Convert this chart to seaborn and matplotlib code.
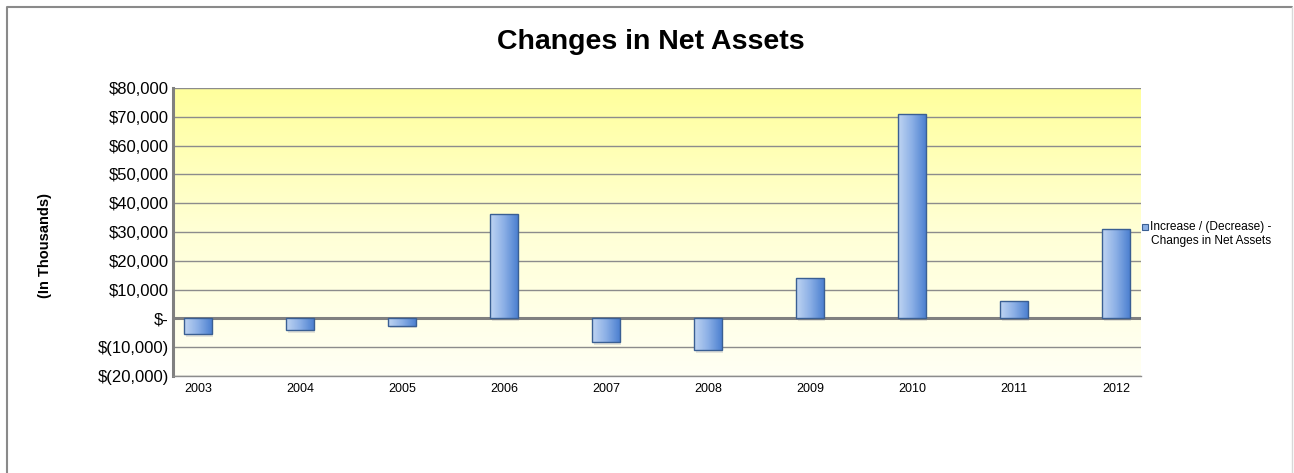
"""Changes in Net Assets bar chart."""
import matplotlib

matplotlib.use("Agg")
import matplotlib.pyplot as plt
import numpy as np
import pandas as pd
import seaborn as sns
from matplotlib.colors import LinearSegmentedColormap
from matplotlib.lines import Line2D
from matplotlib.patches import Rectangle
from matplotlib.ticker import FuncFormatter

YEARS = ["2003", "2004", "2005", "2006", "2007", "2008", "2009", "2010", "2011", "2012"]
CHANGES = [-5500, -4200, -2500, 36300, -8300, -11000, 14200, 70900, 5900, 31100]
LEGEND_LABEL = "Increase / (Decrease) -\nChanges in Net Assets"

df = pd.DataFrame({"year": YEARS, "change": CHANGES})

sns.set_theme(style="white")
plt.rcParams["font.family"] = ["Liberation Sans", "DejaVu Sans"]
plt.rcParams["text.color"] = "black"

W, H = 1294, 473
fig = plt.figure(figsize=(W / 100, H / 100), dpi=100)
ax = fig.add_axes([173 / W, 1 - 376 / H, (1141 - 173) / W, (376 - 88) / H])

sns.barplot(data=df, x="year", y="change", ax=ax, width=0.27,
            color="#6d9ad8", edgecolor="#3a5f93", linewidth=1.0, zorder=3)

ylim = (-20000, 80000)
xlim = (-0.245, len(YEARS) - 1 + 0.245)

# background gradient: yellow at top fading to pale cream
bg = LinearSegmentedColormap.from_list("bg", ["#fffff4", "#ffffd6", "#ffff9c"])
grad = np.linspace(0, 1, 256).reshape(-1, 1)
ax.imshow(grad, cmap=bg, origin="lower", aspect="auto",
          extent=[*xlim, *ylim], zorder=0)

# bar gradient (light left -> darker right) plus soft shadow
bar_cmap = LinearSegmentedColormap.from_list("bar", ["#c0d5f2", "#8cb0e6", "#4c80d0"])
hgrad = np.linspace(0, 1, 256).reshape(1, -1)
for patch in list(ax.patches):
    x0, y0 = patch.get_x(), patch.get_y()
    w, h = patch.get_width(), patch.get_height()
    lo, hi = min(y0, y0 + h), max(y0, y0 + h)
    ax.add_patch(Rectangle((x0 + 0.015, lo - 900), w, hi - lo,
                           facecolor="#c4c4c4", edgecolor="none", alpha=0.45, zorder=2))
    im = ax.imshow(hgrad, cmap=bar_cmap, aspect="auto",
                   extent=[x0, x0 + w, lo, hi], zorder=3.5)
    im.set_clip_path(patch)
    patch.set_facecolor("none")
    patch.set_zorder(4)

ax.set_ylim(*ylim)
ax.set_xlim(*xlim)

ax.set_yticks(range(-20000, 80001, 10000))
ax.yaxis.set_major_formatter(FuncFormatter(
    lambda v, _: "$-" if v == 0 else (f"${v:,.0f}" if v > 0 else f"$({-v:,.0f})")))
ax.tick_params(axis="y", labelsize=12, length=0, pad=3, labelcolor="black")
ax.tick_params(axis="x", labelsize=9, length=0, pad=5, labelcolor="black")
ax.grid(axis="y", color="#8c8c8c", linewidth=1.0, zorder=1)
ax.set_axisbelow(True)
ax.axhline(0, color="#808080", linewidth=2.2, zorder=2.5)

for side in ["top", "right"]:
    ax.spines[side].set_visible(False)
ax.spines["bottom"].set_color("#8c8c8c")
ax.spines["bottom"].set_linewidth(1.0)
ax.spines["left"].set_color("#808080")
ax.spines["left"].set_linewidth(2.2)

ax.set_xlabel("")
ax.set_ylabel("")
fig.text(45 / W, 1 - 245 / H, "(In Thousands)", rotation=90, ha="center", va="center",
         fontsize=10.5, fontweight="bold", color="black")

fig.text(651 / W, 1 - 42 / H, "Changes in Net Assets", ha="center", va="center",
         fontsize=20.5, fontweight="bold", color="black")

# legend
fig.patches.append(Rectangle((1142 / W, 1 - 230 / H), 6 / W, 6 / H, transform=fig.transFigure,
                             facecolor="#8cb0e6", edgecolor="#3a5f93", linewidth=0.8))
fig.text(1211 / W, 1 - 221 / H, LEGEND_LABEL, ha="center", va="top", fontsize=8.6,
         multialignment="center", linespacing=1.25, color="black")

# outer frame of the chart area
fig.lines.append(Line2D([7 / W, 7 / W, 1292 / W], [0, 1 - 7 / H, 1 - 7 / H],
                        transform=fig.transFigure, color="#8a8a8a", linewidth=1.5))
fig.lines.append(Line2D([1292 / W, 1292 / W], [1 - 7 / H, 0],
                        transform=fig.transFigure, color="#d8d8d8", linewidth=1.0))

fig.savefig("out.png", dpi=100)
